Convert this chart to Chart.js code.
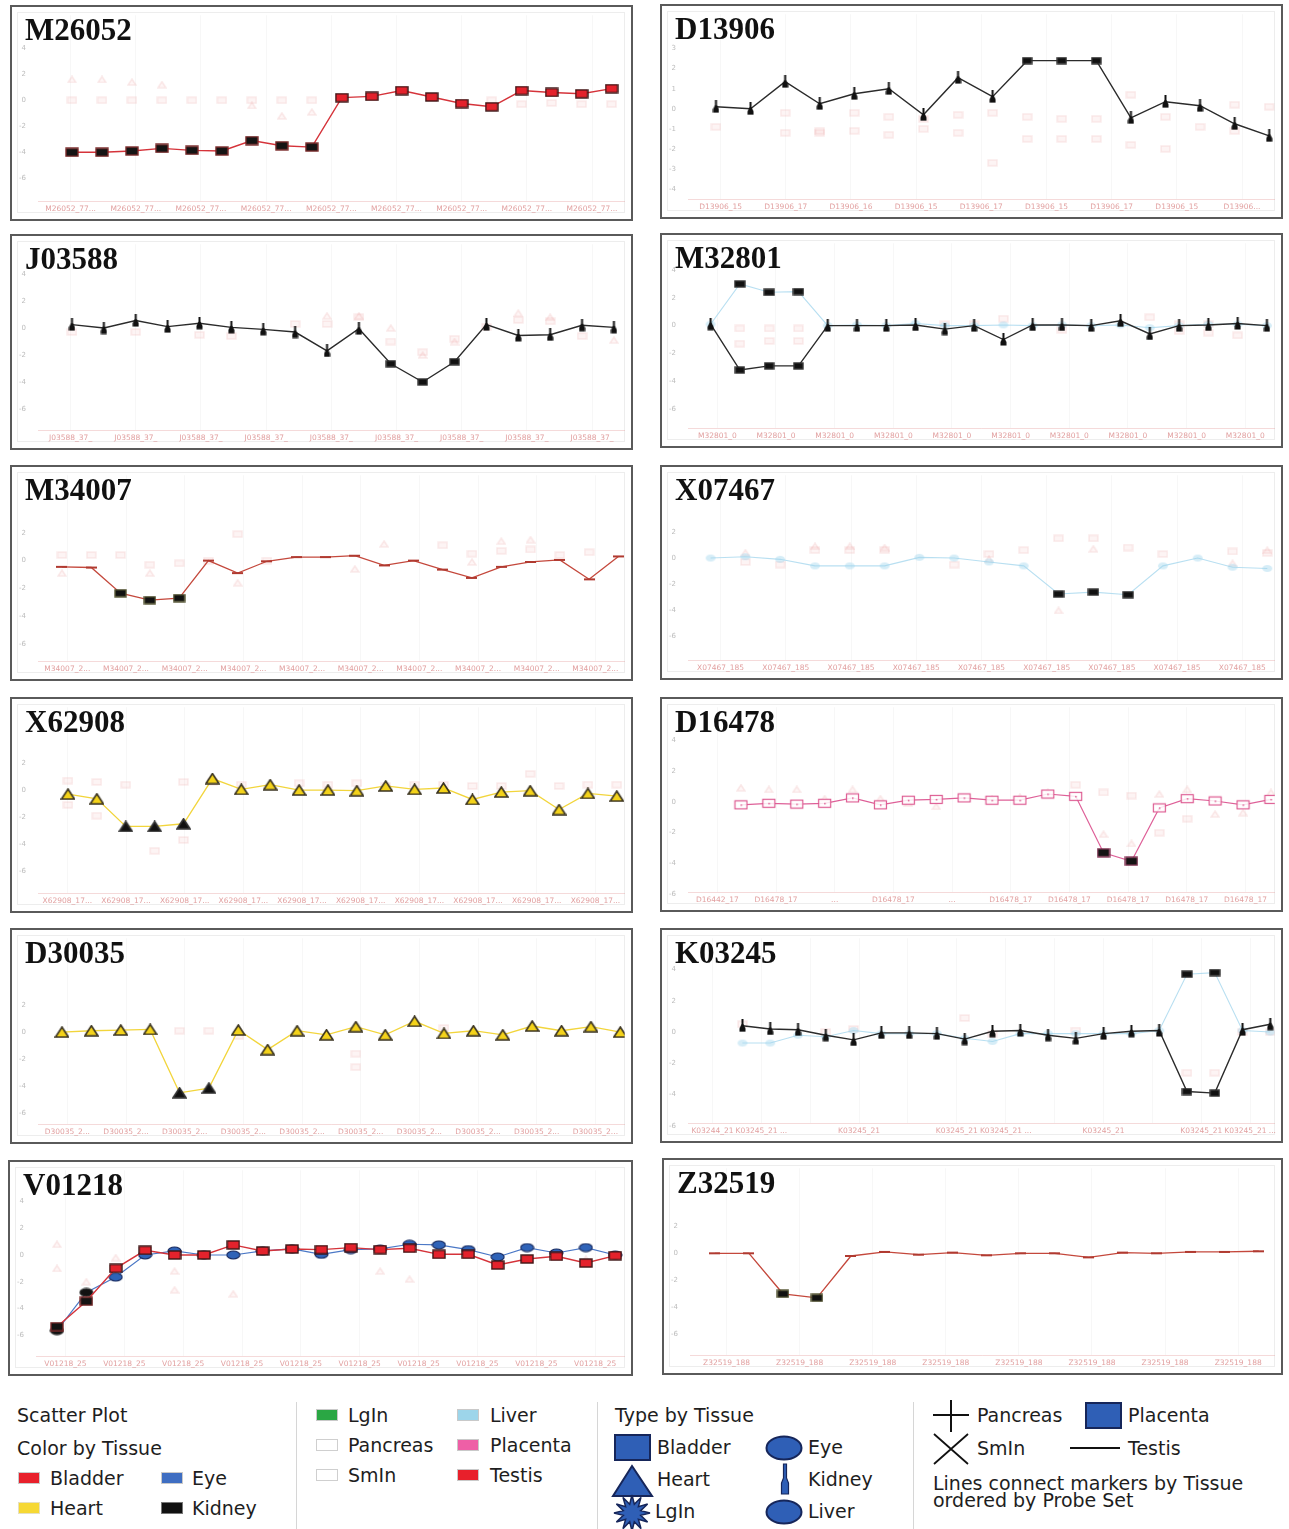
<!DOCTYPE html>
<html>
<head>
<meta charset="utf-8">
<title>Expression by tissue</title>
<script src="https://cdn.jsdelivr.net/npm/chart.js@4.4.1/dist/chart.umd.min.js"></script>
<style>
  html, body { margin: 0; padding: 0; background: #fff; }
  body { position: relative; width: 1289px; height: 1529px; overflow: hidden; font-family: "DejaVu Sans", sans-serif; color: #1d1d1d; }
  .panel { position: absolute; box-sizing: border-box; border: 2px solid #5a5a5a; background: #fff; }
  .panel .frame { position: absolute; left: 5px; top: 5px; right: 6px; bottom: 6px; border: 1px solid #ededed; }
  .panel canvas { position: absolute; left: 0; top: 0; }
  .panel .title { position: absolute; left: 13px; top: 5px; line-height: 1; font: bold 31px "Liberation Serif", "Times New Roman", serif; color: #111; }
  .lg { position: absolute; font-size: 19px; line-height: 22px; white-space: nowrap; color: #1e1e1e; }
  .sw { position: absolute; width: 22px; height: 12px; box-sizing: border-box; }
  .sep { position: absolute; width: 1px; background: #d6d6d6; top: 1402px; height: 127px; }
  svg.ic { position: absolute; overflow: visible; }
</style>
</head>
<body>
<script>
// ---- data: values (log ratio) ----
const rep = (s, n) => Array.from({ length: n }, () => s);

const m26052Bladder = [-4, -4, -3.9, -3.7, -3.85, -3.9, -3.1, -3.5, -3.6, 0.2, 0.3, 0.75, 0.25, -0.25, -0.5, 0.75, 0.6, 0.5, 0.9];
const m26052Dark = [0, 1, 2, 3, 4, 5, 6, 7, 8];
const m26052Other = [0, 0, 0, 0, 0, 0, 0, 0, 0, null, null, null, null, null, 0, -0.3, -0.2, -0.3, -0.3];
const m26052Other2 = [1.6, 1.6, 1.4, 1.2, null, null, -0.4, -1.2, -0.9, null, null, null, null, null, null, null, null, null, null];
const m26052YTicks = [4, 2, 0, -2, -4, -6];
const m26052XLabels = rep('M26052_77...', 9);

const d13906Kidney = [0.1, 0, 1.35, 0.25, 0.75, 1.0, -0.3, 1.55, 0.6, 2.4, 2.4, 2.4, -0.45, 0.35, 0.15, -0.75, -1.35];
const d13906Dark = [9, 10, 11];
const d13906Other = [-0.9, null, -0.2, -1.1, -0.2, -0.4, -0.5, -0.3, -0.2, -0.4, -0.5, -0.5, 0.7, -0.4, -0.9, 0.2, 0.1];
const d13906Other2 = [null, null, -1.2, -1.2, -1.1, -1.3, -1.0, -1.2, -2.7, -1.5, -1.5, -1.5, -1.8, -2.0, null, -1.1, null];
const d13906YTicks = [3, 2, 1, 0, -1, -2, -3, -4];
const d13906XLabels = ['D13906_15', 'D13906_17', 'D13906_16', 'D13906_15', 'D13906_17', 'D13906_15', 'D13906_17', 'D13906_15', 'D13906...'];

const j03588Kidney = [0.25, 0, 0.55, 0.1, 0.35, 0.05, -0.1, -0.3, -1.7, -0.05, -2.65, -4.0, -2.5, 0.25, -0.55, -0.5, 0.2, 0.05];
const j03588Dark = [10, 11, 12];
const j03588Other = [-0.3, null, -0.3, null, -0.5, -0.6, null, 0.3, 0.3, 0.8, -1.0, -1.8, -0.8, 0.1, 0.6, 0.5, -0.6, null];
const j03588Other2 = [null, null, null, null, null, null, null, null, 0.9, 0.9, 0.0, -2.0, -1.0, null, 1.1, 0.8, null, -0.9];
const j03588YTicks = [4, 2, 0, -2, -4, -6];
const j03588XLabels = rep('J03588_37_', 9);

const m32801Kidney = [0.1, -3.2, -2.9, -2.9, 0, 0, 0, 0.05, -0.25, 0, -1.0, 0.05, 0.05, 0, 0.35, -0.6, 0, 0.05, 0.15, 0];
const m32801Liver = [0.1, 3.0, 2.4, 2.45, 0, 0.05, 0, 0.15, 0, 0, 0.05, 0, 0.05, 0, 0.05, -0.15, 0, 0.1, 0.1, 0];
const m32801Dark = [1, 2, 3];
const m32801Other = [null, -0.2, -0.2, -0.2, null, null, null, null, 0.1, 0.1, 0.5, null, null, null, null, 0.6, 0.1, 0.1, -0.7, null];
const m32801Other2 = [null, -1.3, -1.1, -1.1, null, null, null, null, null, null, null, null, -0.3, null, null, null, -0.4, -0.5, null, null];
const m32801YTicks = [4, 2, 0, -2, -4, -6];
const m32801XLabels = rep('M32801_0', 10);

const m34007Testis = [-0.45, -0.5, -2.35, -2.85, -2.7, 0, -0.9, -0.05, 0.25, 0.25, 0.35, -0.35, 0, -0.65, -1.25, -0.45, -0.1, 0.05, -1.35, 0.3];
const m34007Dark = [2, 3, 4];
const m34007Other = [0.4, 0.4, 0.4, -0.3, -0.2, 0, 1.9, 0, null, null, null, null, null, 1.1, 0.5, 0.7, 0.8, 0.4, 0.6, null];
const m34007Other2 = [-0.9, null, null, -0.9, null, null, -1.6, null, null, null, -0.6, 1.2, null, null, -0.1, 1.4, 1.5, null, null, null];
const m34007YTicks = [2, 0, -2, -4, -6];
const m34007XLabels = rep('M34007_2...', 10);

const x07467Liver = [0, 0.1, -0.1, -0.6, -0.6, -0.6, 0.05, 0, -0.3, -0.6, -2.75, -2.6, -2.8, -0.6, 0, -0.7, -0.8];
const x07467Dark = [10, 11, 12];
const x07467Other = [null, -0.3, -0.5, 0.6, 0.6, 0.6, null, -0.5, 0.3, 0.6, 1.5, 1.5, 0.8, 0.3, null, 0.5, 0.4];
const x07467Other2 = [null, 0.4, null, 0.9, 0.9, 0.8, null, null, -0.1, null, -4.0, 0.7, null, null, null, -0.4, 0.6];
const x07467YTicks = [2, 0, -2, -4, -6];
const x07467XLabels = rep('X07467_185', 9);

const x62908Heart = [-0.3, -0.65, -2.7, -2.7, -2.5, 0.85, 0.05, 0.4, 0, 0, -0.05, 0.3, 0.05, 0.15, -0.7, -0.15, -0.05, -1.45, -0.25, -0.45];
const x62908Dark = [2, 3, 4];
const x62908Other = [0.7, 0.6, 0.4, -4.5, 0.6, 0.6, 0.4, null, 0.5, 0.4, 0.5, 0.3, 0.4, 0.4, 0.3, 0.3, 1.2, 0.3, 0.4, 0.4];
const x62908Other2 = [-1.1, -1.9, null, null, -3.7, null, null, null, null, null, null, null, null, null, null, null, null, null, null, null];
const x62908YTicks = [2, 0, -2, -4, -6];
const x62908XLabels = rep('X62908_17...', 10);

const d16478Placenta = [-0.2, -0.1, -0.15, -0.1, 0.25, -0.2, 0.1, 0.15, 0.25, 0.1, 0.1, 0.5, 0.35, -3.3, -3.85, -0.4, 0.2, 0.05, -0.2, 0.15];
const d16478Dark = [13, 14];
const d16478Other = [0.9, 0.8, 0.8, 0.2, 0.8, 0.2, -0.1, -0.3, null, 0.2, 0.3, 0.6, null, -2.1, -2.7, 0.5, 0.8, -0.8, -0.7, 0.6];
const d16478Other2 = [null, null, null, null, null, null, null, null, null, null, null, null, 1.1, 0.6, 0.4, -2.0, -1.1, null, null, null];
const d16478YTicks = [4, 2, 0, -2, -4, -6];
const d16478XLabels = ['D16442_17', 'D16478_17', '...', 'D16478_17', '...', 'D16478_17', 'D16478_17', 'D16478_17', 'D16478_17', 'D16478_17'];

const d30035Heart = [0, 0.1, 0.15, 0.2, -4.5, -4.15, 0.15, -1.3, 0.1, -0.2, 0.4, -0.2, 0.8, -0.1, 0.1, -0.2, 0.45, 0.1, 0.4, 0];
const d30035Dark = [4, 5];
const d30035Other = [null, null, null, null, 0.1, 0.1, -0.3, null, null, null, -1.6, null, null, 0.3, null, null, null, null, null, null];
const d30035Other2 = [null, null, null, null, null, null, null, null, null, null, -2.6, null, null, null, null, null, null, null, null, null];
const d30035YTicks = [2, 0, -2, -4, -6];
const d30035XLabels = rep('D30035_2...', 10);

const k03245Kidney = [0.4, 0.2, 0.15, -0.2, -0.5, -0.05, -0.05, -0.1, -0.45, 0.05, 0.1, -0.2, -0.4, -0.1, 0.05, 0.1, -3.8, -3.9, 0.15, 0.5];
const k03245Liver = [-0.7, -0.7, -0.2, -0.3, 0.1, -0.1, -0.1, -0.1, -0.4, -0.6, -0.1, -0.1, -0.1, -0.1, -0.1, 0.1, 3.7, 3.8, 0.1, 0];
const k03245Dark = [16, 17];
const k03245Other = [0.5, null, null, 0, 0.2, null, null, null, 0.9, -0.1, null, null, 0.1, null, null, null, -2.6, -2.6, 0, 0];
const k03245YTicks = [4, 2, 0, -2, -4, -6];
const k03245XLabels = ['K03244_21', 'K03245_21 ...', '', 'K03245_21', '', 'K03245_21', 'K03245_21 ...', '', 'K03245_21', '', 'K03245_21', 'K03245_21 ...'];

const v01218Bladder = [-5.35, -3.45, -1.0, 0.35, 0, 0, 0.75, 0.3, 0.45, 0.4, 0.55, 0.4, 0.5, 0.05, 0.05, -0.75, -0.3, -0.1, -0.6, -0.05];
const v01218Eye = [-5.65, -2.8, -1.65, 0, 0.3, 0, 0, 0.3, 0.45, 0.05, 0.4, 0.45, 0.8, 0.75, 0.4, -0.15, 0.55, 0.15, 0.55, 0];
const v01218Dark = [0, 1];
const v01218Other = [0.8, -2.0, -0.2, null, -1.2, null, -2.9, null, null, null, null, -1.2, -1.8, null, null, null, null, null, null, null];
const v01218Other2 = [-1.0, null, null, null, -2.6, null, null, null, null, null, null, null, null, null, null, -0.3, null, null, -0.3, null];
const v01218YTicks = [4, 2, 0, -2, -4, -6];
const v01218XLabels = rep('V01218_25', 10);

const z32519Testis = [0, 0, -3.0, -3.3, -0.2, 0.1, -0.1, 0.05, -0.15, 0, 0, -0.3, 0.05, 0, 0.1, 0.1, 0.15];
const z32519Dark = [2, 3];
const z32519YTicks = [2, 0, -2, -4, -6];
const z32519XLabels = rep('Z32519_188', 8);

// ---- marker sprites ----
function sprite(w, h, draw) {
  const c = document.createElement('canvas');
  c.width = w; c.height = h;
  draw(c.getContext('2d'), w, h);
  return c;
}
const box = (fill, stroke, w, h) => sprite(w, h, (g) => {
  g.fillStyle = fill; g.fillRect(1, 1, w - 2, h - 2);
  if (stroke) { g.strokeStyle = stroke; g.lineWidth = 1.4; g.strokeRect(1, 1, w - 2, h - 2); }
});
const tri = (fill, stroke, w, h) => sprite(w, h, (g) => {
  g.beginPath(); g.moveTo(w / 2, 1); g.lineTo(w - 1, h - 1); g.lineTo(1, h - 1); g.closePath();
  g.fillStyle = fill; g.fill(); g.strokeStyle = stroke; g.lineWidth = 1.6; g.stroke();
});
const ell = (fill, stroke, w, h) => sprite(w, h, (g) => {
  g.beginPath(); g.ellipse(w / 2, h / 2, w / 2 - 1, h / 2 - 1, 0, 0, Math.PI * 2);
  g.fillStyle = fill; g.fill(); if (stroke) { g.strokeStyle = stroke; g.lineWidth = 1.2; g.stroke(); }
});
const bottle = (color) => sprite(7, 13, (g) => {
  g.fillStyle = color;
  g.fillRect(2.5, 0, 2, 6);
  g.beginPath(); g.moveTo(2.5, 5); g.lineTo(0.5, 9); g.lineTo(0.5, 12.5); g.lineTo(6.5, 12.5); g.lineTo(6.5, 9); g.lineTo(4.5, 5); g.fill();
});
const dash = (color) => sprite(11, 4, (g) => { g.fillStyle = color; g.fillRect(0, 1, 11, 2); });
const openSq = (stroke) => sprite(15, 11, (g) => {
  g.fillStyle = 'rgba(255,255,255,0.85)'; g.fillRect(1, 1, 13, 9);
  g.strokeStyle = stroke; g.lineWidth = 1.2; g.strokeRect(1.5, 1.5, 12, 8);
  g.fillStyle = stroke; g.fillRect(7, 5, 1.5, 1.5);
});

const TISSUE = {
  bladder:  { line: '#d5333a', width: 1.4, mark: box('#e4222c', '#3b1414', 14, 10), dark: box('#141414', '#7a2a2a', 14, 10) },
  kidney:   { line: '#2b2b2b', width: 1.4, mark: bottle('#111'), dark: box('#111', '#333', 11, 8) },
  liver:    { line: 'rgba(160,212,236,0.75)', width: 1.1, mark: ell('rgba(165,214,238,0.45)', null, 12, 9), dark: box('#111', '#333', 12, 8) },
  testis:   { line: '#c4483c', width: 1.3, mark: dash('#b03a30'), dark: box('#111', '#553', 13, 9) },
  heart:    { line: '#f2d53c', width: 1.3, mark: tri('#f4d31a', '#3a3320', 15, 12), dark: tri('#111', '#333', 15, 12) },
  placenta: { line: '#de6098', width: 1.2, mark: openSq('#dd5b92'), dark: box('#141414', '#8a3c5c', 14, 10) },
  eye:      { line: '#4b78c6', width: 1.2, mark: ell('#2f63b8', '#1a2c60', 15, 10), dark: ell('#111', '#333', 15, 10) }
};
const FAINT = {
  sq: box('rgba(240,165,165,0.12)', 'rgba(225,130,130,0.16)', 11, 8),
  tri: tri('rgba(245,180,180,0.12)', 'rgba(230,145,145,0.18)', 10, 8),
  blue: ell('rgba(160,215,240,0.18)', 'rgba(120,190,225,0.2)', 11, 8)
};

// ---- panels: frame box [left, top, w, h], axis calibration, data ----
const panels = [
  { title: 'M26052', box: [10, 5, 623, 216], zeroY: 98, unit: 13.3, xFirst: 72, step: 30,
    yTicks: m26052YTicks, xLabels: m26052XLabels, dark: m26052Dark,
    series: [['bladder', m26052Bladder]], faint: [['sq', m26052Other], ['tri', m26052Other2]] },
  { title: 'D13906', box: [660, 4, 623, 215], zeroY: 106.7, unit: 20.5, xFirst: 716, step: 34.6,
    yTicks: d13906YTicks, xLabels: d13906XLabels, dark: d13906Dark,
    series: [['kidney', d13906Kidney]], faint: [['sq', d13906Other], ['sq', d13906Other2]] },
  { title: 'J03588', box: [10, 234, 623, 216], zeroY: 325.7, unit: 13.8, xFirst: 72, step: 31.9,
    yTicks: j03588YTicks, xLabels: j03588XLabels, dark: j03588Dark,
    series: [['kidney', j03588Kidney]], faint: [['sq', j03588Other], ['tri', j03588Other2]] },
  { title: 'M32801', box: [660, 233, 623, 215], zeroY: 323.3, unit: 14.2, xFirst: 710.6, step: 29.3,
    yTicks: m32801YTicks, xLabels: m32801XLabels, dark: m32801Dark,
    series: [['kidney', m32801Kidney], ['liver', m32801Liver]], faint: [['sq', m32801Other], ['sq', m32801Other2]] },
  { title: 'M34007', box: [10, 465, 623, 216], zeroY: 558.3, unit: 14.2, xFirst: 62, step: 29.3,
    yTicks: m34007YTicks, xLabels: m34007XLabels, dark: m34007Dark,
    series: [['testis', m34007Testis]], faint: [['sq', m34007Other], ['tri', m34007Other2]] },
  { title: 'X07467', box: [660, 465, 623, 215], zeroY: 555.7, unit: 13.4, xFirst: 710.6, step: 34.8,
    yTicks: x07467YTicks, xLabels: x07467XLabels, dark: x07467Dark,
    series: [['liver', x07467Liver]], faint: [['sq', x07467Other], ['tri', x07467Other2]] },
  { title: 'X62908', box: [10, 697, 623, 216], zeroY: 787.7, unit: 13.8, xFirst: 68, step: 28.9,
    yTicks: x62908YTicks, xLabels: x62908XLabels, dark: x62908Dark,
    series: [['heart', x62908Heart]], faint: [['sq', x62908Other], ['sq', x62908Other2]] },
  { title: 'D16478', box: [660, 697, 623, 215], zeroY: 799.7, unit: 15.8, xFirst: 741, step: 27.9,
    yTicks: d16478YTicks, xLabels: d16478XLabels, dark: d16478Dark,
    series: [['placenta', d16478Placenta]], faint: [['tri', d16478Other], ['sq', d16478Other2]] },
  { title: 'D30035', box: [10, 928, 623, 216], zeroY: 1030, unit: 13.8, xFirst: 62, step: 29.4,
    yTicks: d30035YTicks, xLabels: d30035XLabels, dark: d30035Dark,
    series: [['heart', d30035Heart]], faint: [['sq', d30035Other], ['sq', d30035Other2]] },
  { title: 'K03245', box: [660, 928, 623, 215], zeroY: 1030, unit: 16, xFirst: 742.5, step: 27.8,
    yTicks: k03245YTicks, xLabels: k03245XLabels, dark: k03245Dark,
    series: [['kidney', k03245Kidney], ['liver', k03245Liver]], faint: [['sq', k03245Other]] },
  { title: 'V01218', box: [8, 1160, 625, 216], zeroY: 1252.7, unit: 13.7, xFirst: 57, step: 29.4,
    yTicks: v01218YTicks, xLabels: v01218XLabels, dark: v01218Dark,
    series: [['bladder', v01218Bladder], ['eye', v01218Eye]], faint: [['tri', v01218Other], ['tri', v01218Other2]] },
  { title: 'Z32519', box: [662, 1158, 621, 217], zeroY: 1251, unit: 13.8, xFirst: 715, step: 34,
    yTicks: z32519YTicks, xLabels: z32519XLabels, dark: z32519Dark,
    series: [['testis', z32519Testis]], faint: [] }
];

const AX_W = 26, AX_H = 18, PAD_T = 4, PAD_R = 6;

function buildPanel(p) {
  const [left, top, w, h] = p.box;
  const div = document.createElement('div');
  div.className = 'panel';
  Object.assign(div.style, { left: left + 'px', top: top + 'px', width: w + 'px', height: h + 'px' });
  div.innerHTML = '<div class="frame"></div>';
  const cw = w - 4, ch = h - 4;
  const cv = document.createElement('canvas');
  cv.width = cw; cv.height = ch;
  cv.style.width = cw + 'px'; cv.style.height = ch + 'px';
  div.appendChild(cv);
  const t = document.createElement('div');
  t.className = 'title';
  t.textContent = p.title;
  div.appendChild(t);
  document.body.appendChild(div);

  // axis ranges so that 0 and the first probe set sit where they do in the figure
  const areaL = AX_W, areaR = cw - PAD_R, areaT = PAD_T, areaB = ch - AX_H;
  const zero = p.zeroY - top - 2;
  const yMax = (zero - areaT) / p.unit, yMin = -(areaB - zero) / p.unit;
  const first = p.xFirst - left - 2;
  const xMin = -(first - areaL) / p.step, xMax = (areaR - first) / p.step;

  const datasets = [];
  p.series.forEach(([tissue, values]) => {
    const st = TISSUE[tissue];
    datasets.push({
      type: 'line',
      data: values.map((v, i) => ({ x: i, y: v })),
      borderColor: st.line,
      borderWidth: st.width,
      pointStyle: values.map((v, i) => p.dark.includes(i) ? st.dark : st.mark),
      pointRadius: 5,
      pointHoverRadius: 5,
      tension: 0,
      fill: false
    });
  });
  p.faint.forEach(([kind, values]) => {
    datasets.push({
      type: 'scatter',
      data: values.map((v, i) => ({ x: i, y: v })),
      pointStyle: FAINT[kind],
      pointRadius: 4,
      showLine: false
    });
  });

  new Chart(cv, {
    data: { datasets },
    options: {
      responsive: false,
      animation: false,
      devicePixelRatio: 1,
      events: [],
      layout: { padding: { left: 0, right: PAD_R, top: PAD_T, bottom: 0 } },
      plugins: { legend: { display: false }, tooltip: { enabled: false } },
      scales: {
        x: {
          type: 'linear', position: 'bottom', min: xMin, max: xMax,
          afterBuildTicks: (sc) => {
            sc.ticks = p.xLabels.map((_, j) => ({ value: xMin + (j + 0.5) * (xMax - xMin) / p.xLabels.length }));
          },
          afterFit: (sc) => { sc.height = AX_H; },
          ticks: {
            autoSkip: false, maxRotation: 0, padding: 4,
            callback: (v, j) => p.xLabels[j],
            font: { size: 7.5, family: 'DejaVu Sans' },
            color: 'rgba(212,118,118,0.7)'
          },
          grid: { color: 'rgba(0,0,0,0.03)', drawTicks: false },
          border: { display: true, color: 'rgba(225,150,150,0.35)' }
        },
        y: {
          type: 'linear', min: yMin, max: yMax,
          afterBuildTicks: (sc) => { sc.ticks = p.yTicks.map((v) => ({ value: v })); },
          afterFit: (sc) => { sc.width = AX_W; },
          ticks: { padding: 4, font: { size: 7, family: 'DejaVu Sans' }, color: '#bcbcbc' },
          grid: { display: false },
          border: { display: false }
        }
      }
    }
  });
}

panels.forEach(buildPanel);

// ---- legend strip under the panels ----
function text(str, x, cy) {
  const s = document.createElement('div');
  s.className = 'lg';
  s.textContent = str;
  s.style.left = x + 'px';
  s.style.top = (cy - 11) + 'px';
  document.body.appendChild(s);
}
function swatch(x, cy, fill, border) {
  const s = document.createElement('div');
  s.className = 'sw';
  Object.assign(s.style, { left: x + 'px', top: (cy - 6) + 'px', background: fill, border: '1px solid ' + border });
  document.body.appendChild(s);
}
function sep(x) {
  const s = document.createElement('div');
  s.className = 'sep';
  s.style.left = x + 'px';
  document.body.appendChild(s);
}
function icon(x, y, w, h, inner) {
  const ns = 'http://www.w3.org/2000/svg';
  const s = document.createElementNS(ns, 'svg');
  s.setAttribute('class', 'ic');
  s.setAttribute('width', w); s.setAttribute('height', h);
  s.style.left = x + 'px'; s.style.top = y + 'px';
  s.innerHTML = inner;
  document.body.appendChild(s);
}

const BLUE = '#2f5fb6', BLUE_EDGE = '#16265a';

text('Scatter Plot', 17, 1415);
text('Color by Tissue', 17, 1448);
swatch(18, 1478, '#e8202b', '#c9c9c9'); text('Bladder', 50, 1478);
swatch(161, 1478, '#3f6ec2', '#c9c9c9'); text('Eye', 192, 1478);
swatch(18, 1508, '#f6d834', '#e6e0c0'); text('Heart', 50, 1508);
swatch(161, 1508, '#111111', '#777'); text('Kidney', 192, 1508);

sep(296);
swatch(316, 1415, '#2aa744', '#c9c9c9'); text('LgIn', 348, 1415);
swatch(316, 1445, '#ffffff', '#cfcfcf'); text('Pancreas', 348, 1445);
swatch(316, 1475, '#ffffff', '#cfcfcf'); text('SmIn', 348, 1475);
swatch(457, 1415, '#9dd5ea', '#c9c9c9'); text('Liver', 490, 1415);
swatch(457, 1445, '#ee5fa6', '#c9c9c9'); text('Placenta', 490, 1445);
swatch(457, 1475, '#e8202b', '#c9c9c9'); text('Testis', 490, 1475);

sep(597);
text('Type by Tissue', 615, 1415);
icon(614, 1434, 38, 28, `<rect x="1" y="1" width="35" height="25" fill="${BLUE}" stroke="${BLUE_EDGE}" stroke-width="2"/>`);
text('Bladder', 657, 1447);
icon(765, 1435, 38, 26, `<ellipse cx="19" cy="13" rx="17.5" ry="11.5" fill="${BLUE}" stroke="${BLUE_EDGE}" stroke-width="2"/>`);
text('Eye', 808, 1447);
icon(612, 1464, 42, 34, `<polygon points="20,2 40,32 1,32" fill="${BLUE}" stroke="${BLUE_EDGE}" stroke-width="2"/>`);
text('Heart', 657, 1479);
icon(780, 1463, 10, 32, `<path d="M3.5 1 H6.5 V15 L8.5 20 V31 H1.5 V20 L3.5 15 Z" fill="${BLUE}" stroke="${BLUE_EDGE}" stroke-width="1.2"/>`);
text('Kidney', 808, 1479);
const burst = [];
for (let k = 0; k < 24; k++) {
  const a = (k / 24) * Math.PI * 2, r = k % 2 ? 9 : 18;
  burst.push((20 + r * Math.cos(a)).toFixed(1) + ',' + (16 + r * Math.sin(a)).toFixed(1));
}
icon(612, 1497, 40, 33, `<polygon points="${burst.join(' ')}" fill="${BLUE}" stroke="${BLUE_EDGE}" stroke-width="1.5"/>`);
text('LgIn', 655, 1511);
icon(765, 1499, 38, 26, `<ellipse cx="19" cy="13" rx="17.5" ry="11.5" fill="${BLUE}" stroke="${BLUE_EDGE}" stroke-width="2"/>`);
text('Liver', 808, 1511);

sep(913);
icon(932, 1399, 38, 34, `<path d="M1 16 H37 M19 1 V33" stroke="#111" stroke-width="2"/>`);
text('Pancreas', 977, 1415);
icon(1085, 1402, 38, 28, `<rect x="1" y="1" width="35" height="25" fill="${BLUE}" stroke="${BLUE_EDGE}" stroke-width="2"/>`);
text('Placenta', 1128, 1415);
icon(932, 1432, 38, 34, `<path d="M2 2 L36 32 M36 2 L2 32" stroke="#111" stroke-width="1.8"/>`);
text('SmIn', 977, 1448);
icon(1070, 1446, 52, 4, `<path d="M0 2 H50" stroke="#111" stroke-width="2"/>`);
text('Testis', 1128, 1448);
text('Lines connect markers by Tissue', 933, 1483);
text('ordered by Probe Set', 933, 1500);
</script>
</body>
</html>
